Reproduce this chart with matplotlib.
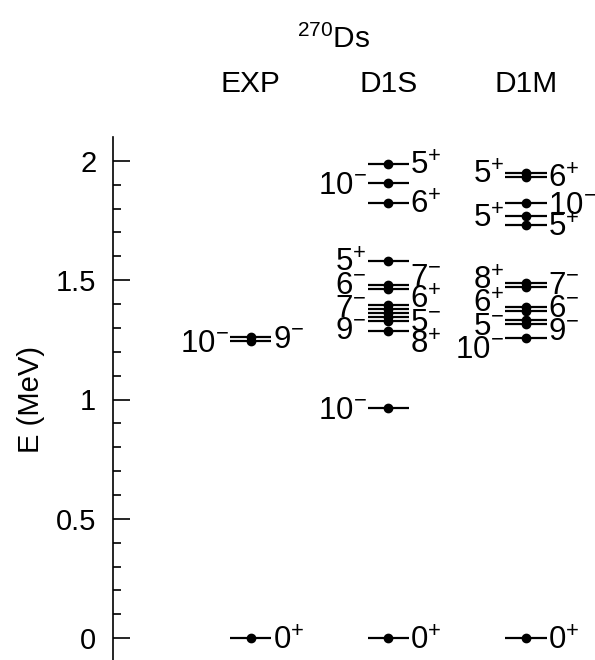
import numpy as np
import matplotlib.pyplot as plt

plt.rcParams['font.family'] = ['Liberation Sans', 'DejaVu Sans']
plt.rcParams['mathtext.fontset'] = 'custom'
plt.rcParams['mathtext.rm'] = 'Liberation Sans'
plt.rcParams['mathtext.it'] = 'Liberation Sans:italic'
plt.rcParams['mathtext.bf'] = 'Liberation Sans:bold'

# level schemes for 270Ds: energy (MeV), spin-parity, side of label ('L', 'R' or '')
columns = ['EXP', 'D1S', 'D1M']

exp_E = [0.0, 1.245, 1.262]
exp_J = ['0+', '10-', '9-']
exp_side = ['R', 'L', 'R']

d1s_E = [0.0, 0.964, 1.287, 1.329, 1.346, 1.363, 1.379, 1.396, 1.461, 1.478,
         1.581, 1.824, 1.908, 1.987]
d1s_J = ['0+', '10-', '8+', '', '9-', '5-', '7-', '6+', '6-', '7-',
         '5+', '6+', '10-', '5+']
d1s_side = ['R', 'L', 'R', '', 'L', 'R', 'L', 'R', 'L', 'R',
            'L', 'R', 'L', 'R']

d1m_E = [0.0, 1.257, 1.318, 1.335, 1.372, 1.389, 1.470, 1.487,
         1.732, 1.767, 1.823, 1.933, 1.950]
d1m_J = ['0+', '10-', '9-', '5-', '6-', '6+', '8+', '7-',
         '5+', '5+', '10-', '6+', '5+']
d1m_side = ['R', 'L', 'R', 'L', 'R', 'L', 'L', 'R',
            'R', 'L', 'R', 'R', 'L']

schemes = [(exp_E, exp_J, exp_side), (d1s_E, d1s_J, d1s_side), (d1m_E, d1m_J, d1m_side)]


def spread(vals, gap):
    """push label positions apart so neighbours are at least gap apart"""
    groups = [[v] for v in sorted(vals, reverse=True)]

    def pos(g):
        c = np.mean(g)
        n = len(g)
        return [c + gap * ((n - 1) / 2 - i) for i in range(n)]

    merged = True
    while merged:
        merged = False
        for i in range(len(groups) - 1):
            if pos(groups[i])[-1] - pos(groups[i + 1])[0] < gap:
                groups[i] = groups[i] + groups[i + 1]
                del groups[i + 1]
                merged = True
                break
    out = {}
    for g in groups:
        for v, p in zip(g, pos(g)):
            out[v] = p
    return out


def fmt(j):
    return r'$\mathregular{%s^{%s}}$' % (j[:-1], j[-1])


fig = plt.figure(figsize=(5.95, 6.6), dpi=100)
ax = fig.add_axes([113 / 595, -2 / 660, 482 / 595, 525 / 660])

hw = 0.15
fs = 21
lfs = 22.5
gap = 0.095
for k, (E, J, side) in enumerate(schemes):
    x = k + 1
    for e in E:
        ax.plot([x - hw, x + hw], [e, e], color='black', lw=1.6, solid_capstyle='butt')
        ax.plot(x, e, 'o', color='black', ms=6)
    for s in ['L', 'R']:
        sel = [(e, j) for e, j, sd in zip(E, J, side) if sd == s and j]
        ypos = spread([e for e, _ in sel], gap)
        for e, j in sel:
            if s == 'R':
                ax.annotate(fmt(j), xy=(x + hw, ypos[e]), xytext=(1.0, -8),
                            textcoords='offset points', ha='left', va='baseline',
                            fontsize=lfs, annotation_clip=False)
            else:
                ax.annotate(fmt(j), xy=(x - hw, ypos[e]), xytext=(-1.0, -8),
                            textcoords='offset points', ha='right', va='baseline',
                            fontsize=lfs, annotation_clip=False)
    ax.text(x, 2.32, columns[k], ha='center', va='center', fontsize=fs + 0.5)

ax.text(1.606, 2.51, r'$\mathregular{^{270}}$Ds', ha='center', va='center', fontsize=fs + 0.5)

ax.set_xlim(0, 3.5)
ax.set_ylim(-0.1, 2.1)
ax.set_yticks([0, 0.5, 1, 1.5, 2])
ax.set_yticklabels(['0', '0.5', '1', '1.5', '2'])
ax.set_yticks(np.arange(0, 2.05, 0.1), minor=True)
ax.tick_params(axis='y', which='major', direction='in', length=12, width=1.2,
               labelsize=fs, pad=12)
ax.tick_params(axis='y', which='minor', direction='in', length=6, width=1.2)
ax.set_xticks([])
for sp in ['top', 'right', 'bottom']:
    ax.spines[sp].set_visible(False)
ax.spines['left'].set_linewidth(1.2)
ax.set_ylabel('E (MeV)', fontsize=fs, labelpad=8)

fig.savefig('out.png', dpi=100)
